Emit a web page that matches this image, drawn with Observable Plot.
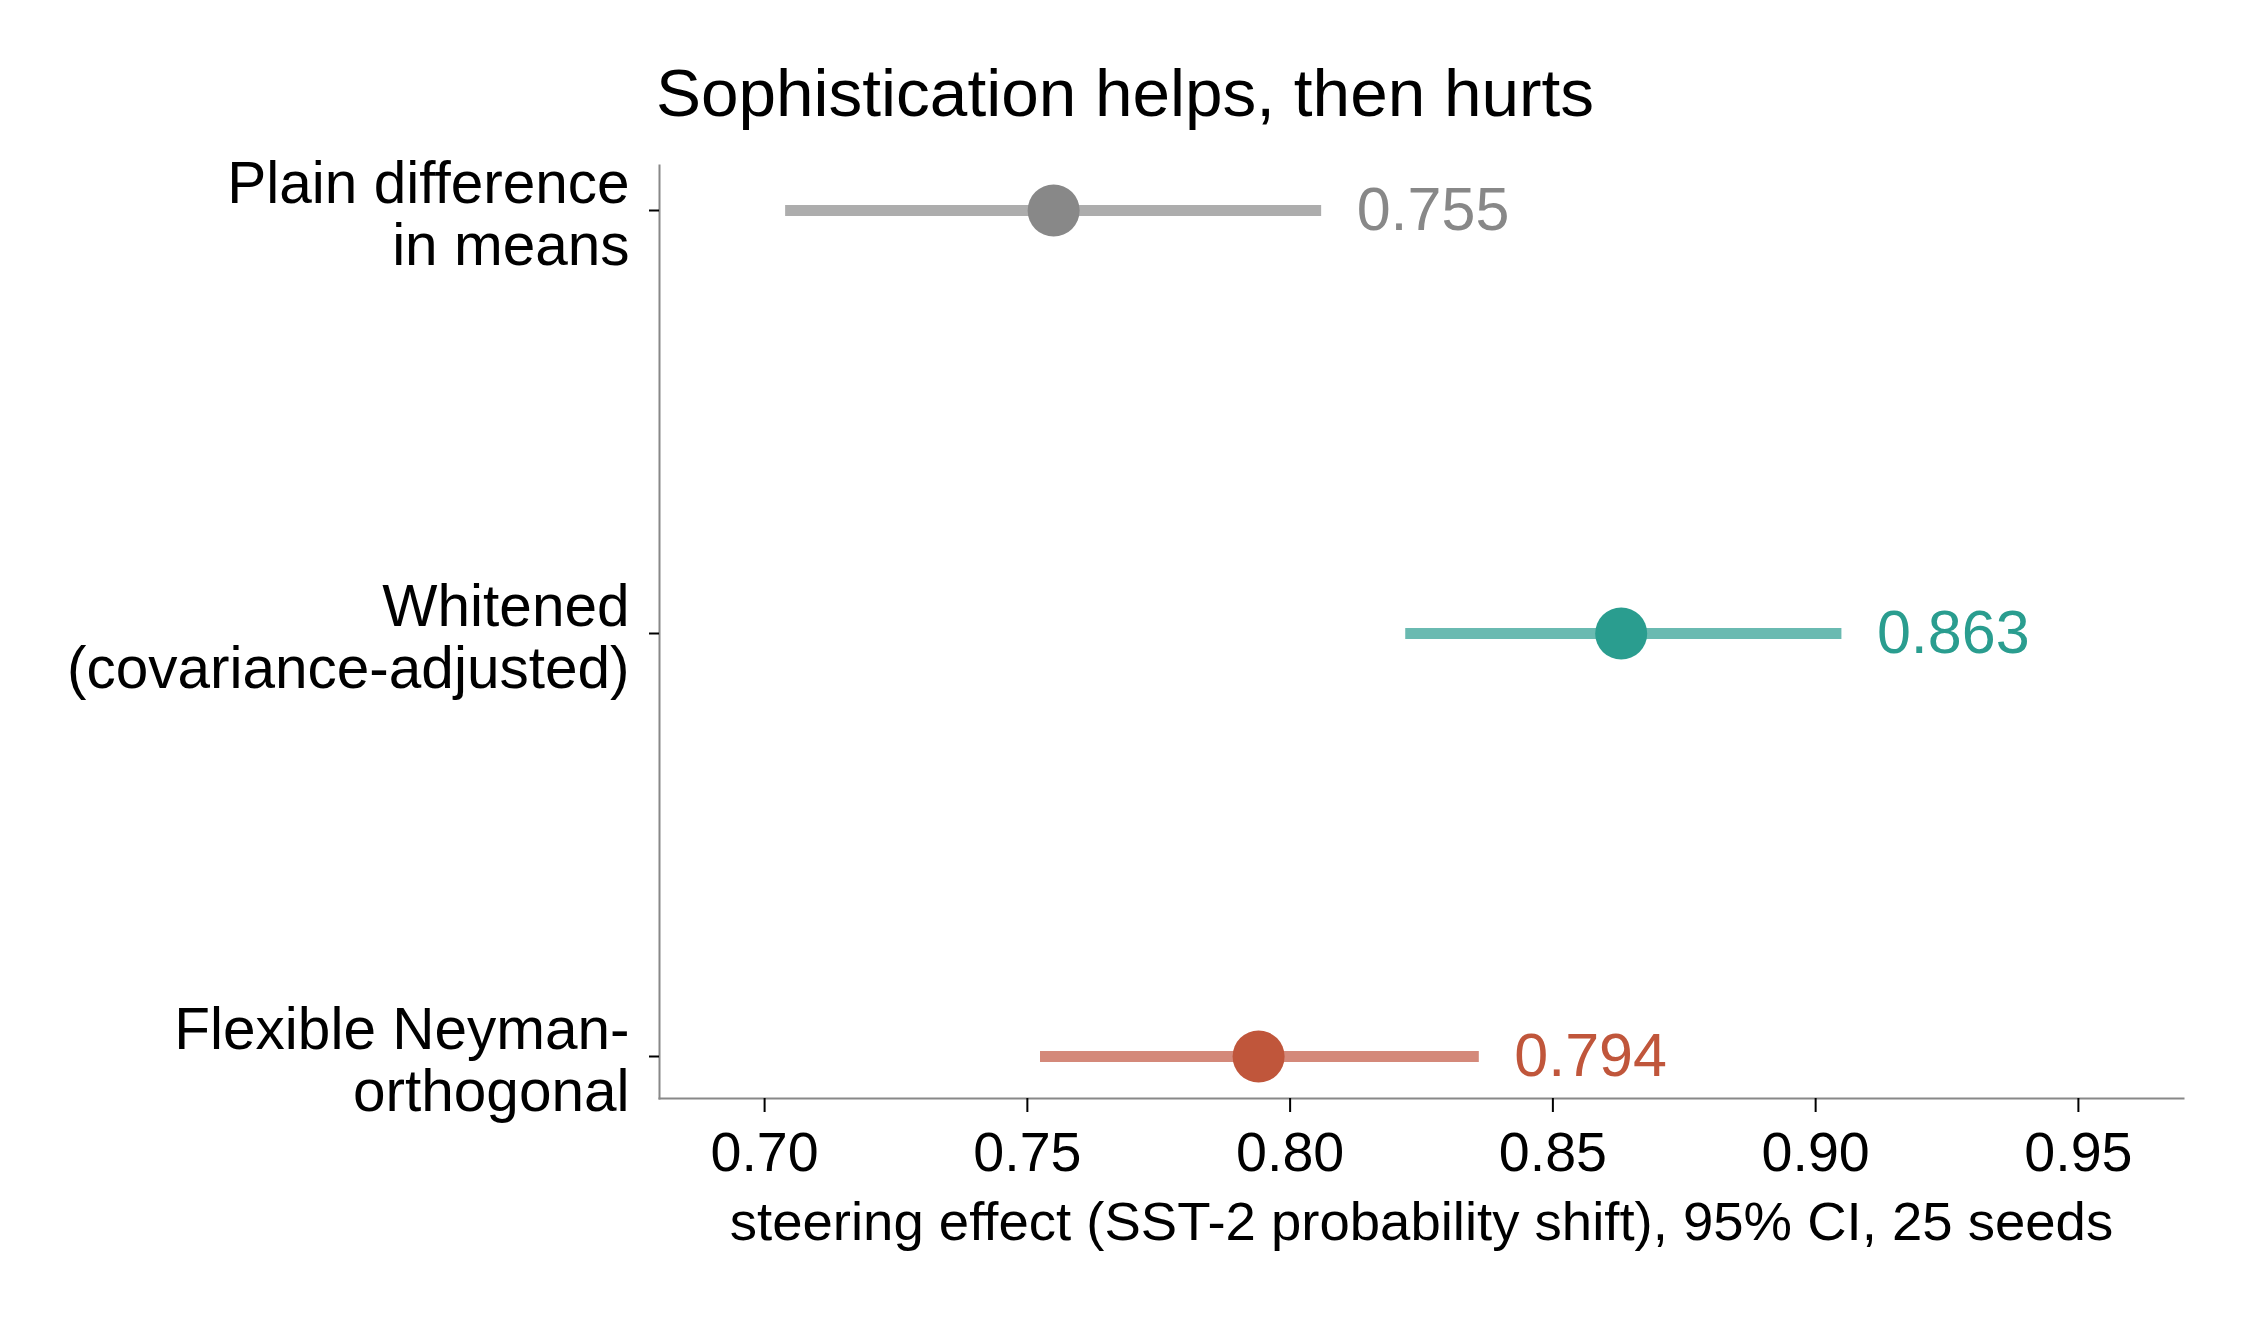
<!DOCTYPE html>
<html><head><meta charset="utf-8">
<script src="https://cdn.jsdelivr.net/npm/d3@7"></script>
<script src="https://cdn.jsdelivr.net/npm/@observablehq/plot@0.6"></script>
<style>
body{margin:0;background:#fff;font-family:"Liberation Sans",Arial,Helvetica,sans-serif;}
#title{height:140px;box-sizing:border-box;padding-top:59px;font-size:67.5px;line-height:67px;text-align:center;color:#000;width:2250px;white-space:nowrap}
</style></head><body>
<div id="title">Sophistication helps, then hurts</div>
<div id="chart"></div>
<script>
const methods = ["Plain difference\nin means", "Whitened\n(covariance-adjusted)", "Flexible Neyman-\northogonal"];
const estimates = [0.755, 0.863, 0.794];
const ciLow = [0.704, 0.822, 0.7525];
const ciHigh = [0.806, 0.905, 0.836];
const dotColors = ["#888888", "#2a9d8f", "#c0563b"];
const lineColors = ["#adadad", "#6abab1", "#d4897a"];
const xTicks = [0.70, 0.75, 0.80, 0.85, 0.90, 0.95];
const xDomain = [0.68, 0.97];
const xLabel = "steering effect (SST-2 probability shift), 95% CI, 25 seeds";

const rows = methods.map((m, i) => ({method: m, est: estimates[i], lo: ciLow[i], hi: ciHigh[i], dot: dotColors[i], line: lineColors[i]}));

const chart = Plot.plot({
  width: 2250,
  height: 1180,
  marginLeft: 659,
  marginRight: 67,
  marginTop: 25,
  marginBottom: 222,
  style: {fontFamily: "'Liberation Sans', Arial, Helvetica, sans-serif", background: "white", color: "#000"},
  x: {domain: xDomain},
  y: {type: "point", domain: methods, padding: 0, insetTop: 44, insetBottom: 42},
  color: {type: "identity"},
  marks: [
    Plot.frame({anchor: "left", stroke: "#888", strokeWidth: 2}),
    Plot.frame({anchor: "bottom", stroke: "#888", strokeWidth: 2}),
    Plot.axisX({ticks: xTicks, tickFormat: d3.format(".2f"), tickSize: 14, tickPadding: 19, fontSize: 55.6, label: null, strokeWidth: 2}),
    Plot.axisY({tickSize: 10, tickFormat: () => "", label: null, strokeWidth: 2}),
    Plot.axisY({tickSize: 0, tickPadding: 30, fontSize: 58.5, lineHeight: 1.06, dy: 4, label: null}),
    Plot.ruleY(rows, {y: "method", x1: "lo", x2: "hi", stroke: d => d.line, strokeWidth: 11}),
    Plot.dot(rows, {x: "est", y: "method", r: 26, fill: d => d.dot, stroke: null}),
    Plot.text(rows, {x: "hi", y: "method", text: d => d.est.toFixed(3), fill: d => d.dot, dx: 35, textAnchor: "start", fontSize: 61}),
    Plot.text([xLabel], {frameAnchor: "bottom", dy: 141, fontSize: 54.5, fill: "#000"})
  ]
});
document.getElementById("chart").appendChild(chart);
</script>
</body></html>
